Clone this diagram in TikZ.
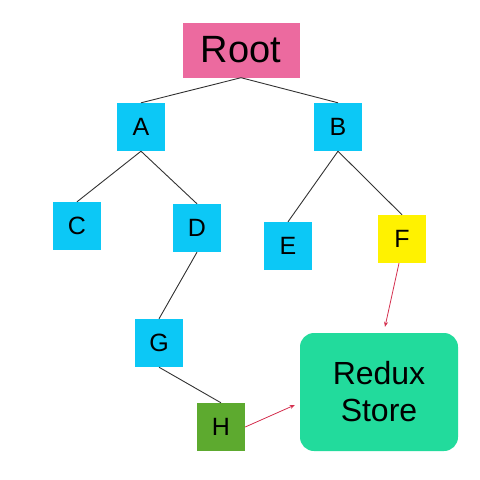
\documentclass[tikz,border=0pt]{standalone}
\usepackage{fontspec}
\setmainfont{Liberation Sans}
\usepackage{tikz}
\usetikzlibrary{arrows.meta}

\definecolor{rootpink}{HTML}{EC6A9F}
\definecolor{boxcyan}{HTML}{0CC8F6}
\definecolor{boxyellow}{HTML}{FFF200}
\definecolor{boxgreen}{HTML}{5DAA2F}
\definecolor{storegreen}{HTML}{22DB9C}
\definecolor{arrowred}{HTML}{D4304F}

\tikzset{
  leaf/.style={fill=boxcyan,minimum size=48pt,inner sep=0pt,font=\fontsize{25}{30}\selectfont},
  edge/.style={draw=black!80,line width=0.9pt},
  link/.style={draw=arrowred,line width=0.8pt,-{Stealth[length=5pt,width=4pt]}}
}

\begin{document}
\begin{tikzpicture}[x=1pt,y=-1pt]
  \useasboundingbox (0,0) rectangle (480,480);
  \node[fill=rootpink,minimum width=117pt,minimum height=55pt,inner sep=0pt,
        font=\fontsize{38}{44}\selectfont] (root) at (241,50) {Root};
  \node[leaf] (a) at (141,127) {A};
  \node[leaf] (b) at (338,127) {B};
  \node[leaf] (c) at (77,226) {C};
  \node[leaf] (d) at (197,228) {D};
  \node[leaf] (e) at (288,246) {E};
  \node[leaf,fill=boxyellow] (f) at (402,239) {F};
  \node[leaf] (g) at (159,343) {G};
  \node[leaf,fill=boxgreen] (h) at (221,427) {H};
  \node[fill=storegreen,rounded corners=14pt,minimum width=158pt,minimum height=118pt,
        inner sep=0pt,align=center,font=\fontsize{32}{37}\selectfont] (store) at (379,392) {Redux\\Store};
  % tree
  \draw[edge] (root.south) -- (a.north);
  \draw[edge] (root.south) -- (b.north);
  \draw[edge] (a.south) -- (c.north);
  \draw[edge] (a.south) -- (d.north);
  \draw[edge] (b.south) -- (e.north);
  \draw[edge] (b.south) -- (f.north);
  \draw[edge] (d.south) -- (g.north);
  \draw[edge] (g.south) -- (h.north);
  % connections to the store
  \draw[link] ([xshift=-3pt]f.south) -- ([xshift=6pt,yshift=6pt]store.north);
  \draw[link] (h.east) -- ([xshift=-5pt,yshift=-13pt]store.west);
\end{tikzpicture}
\end{document}
